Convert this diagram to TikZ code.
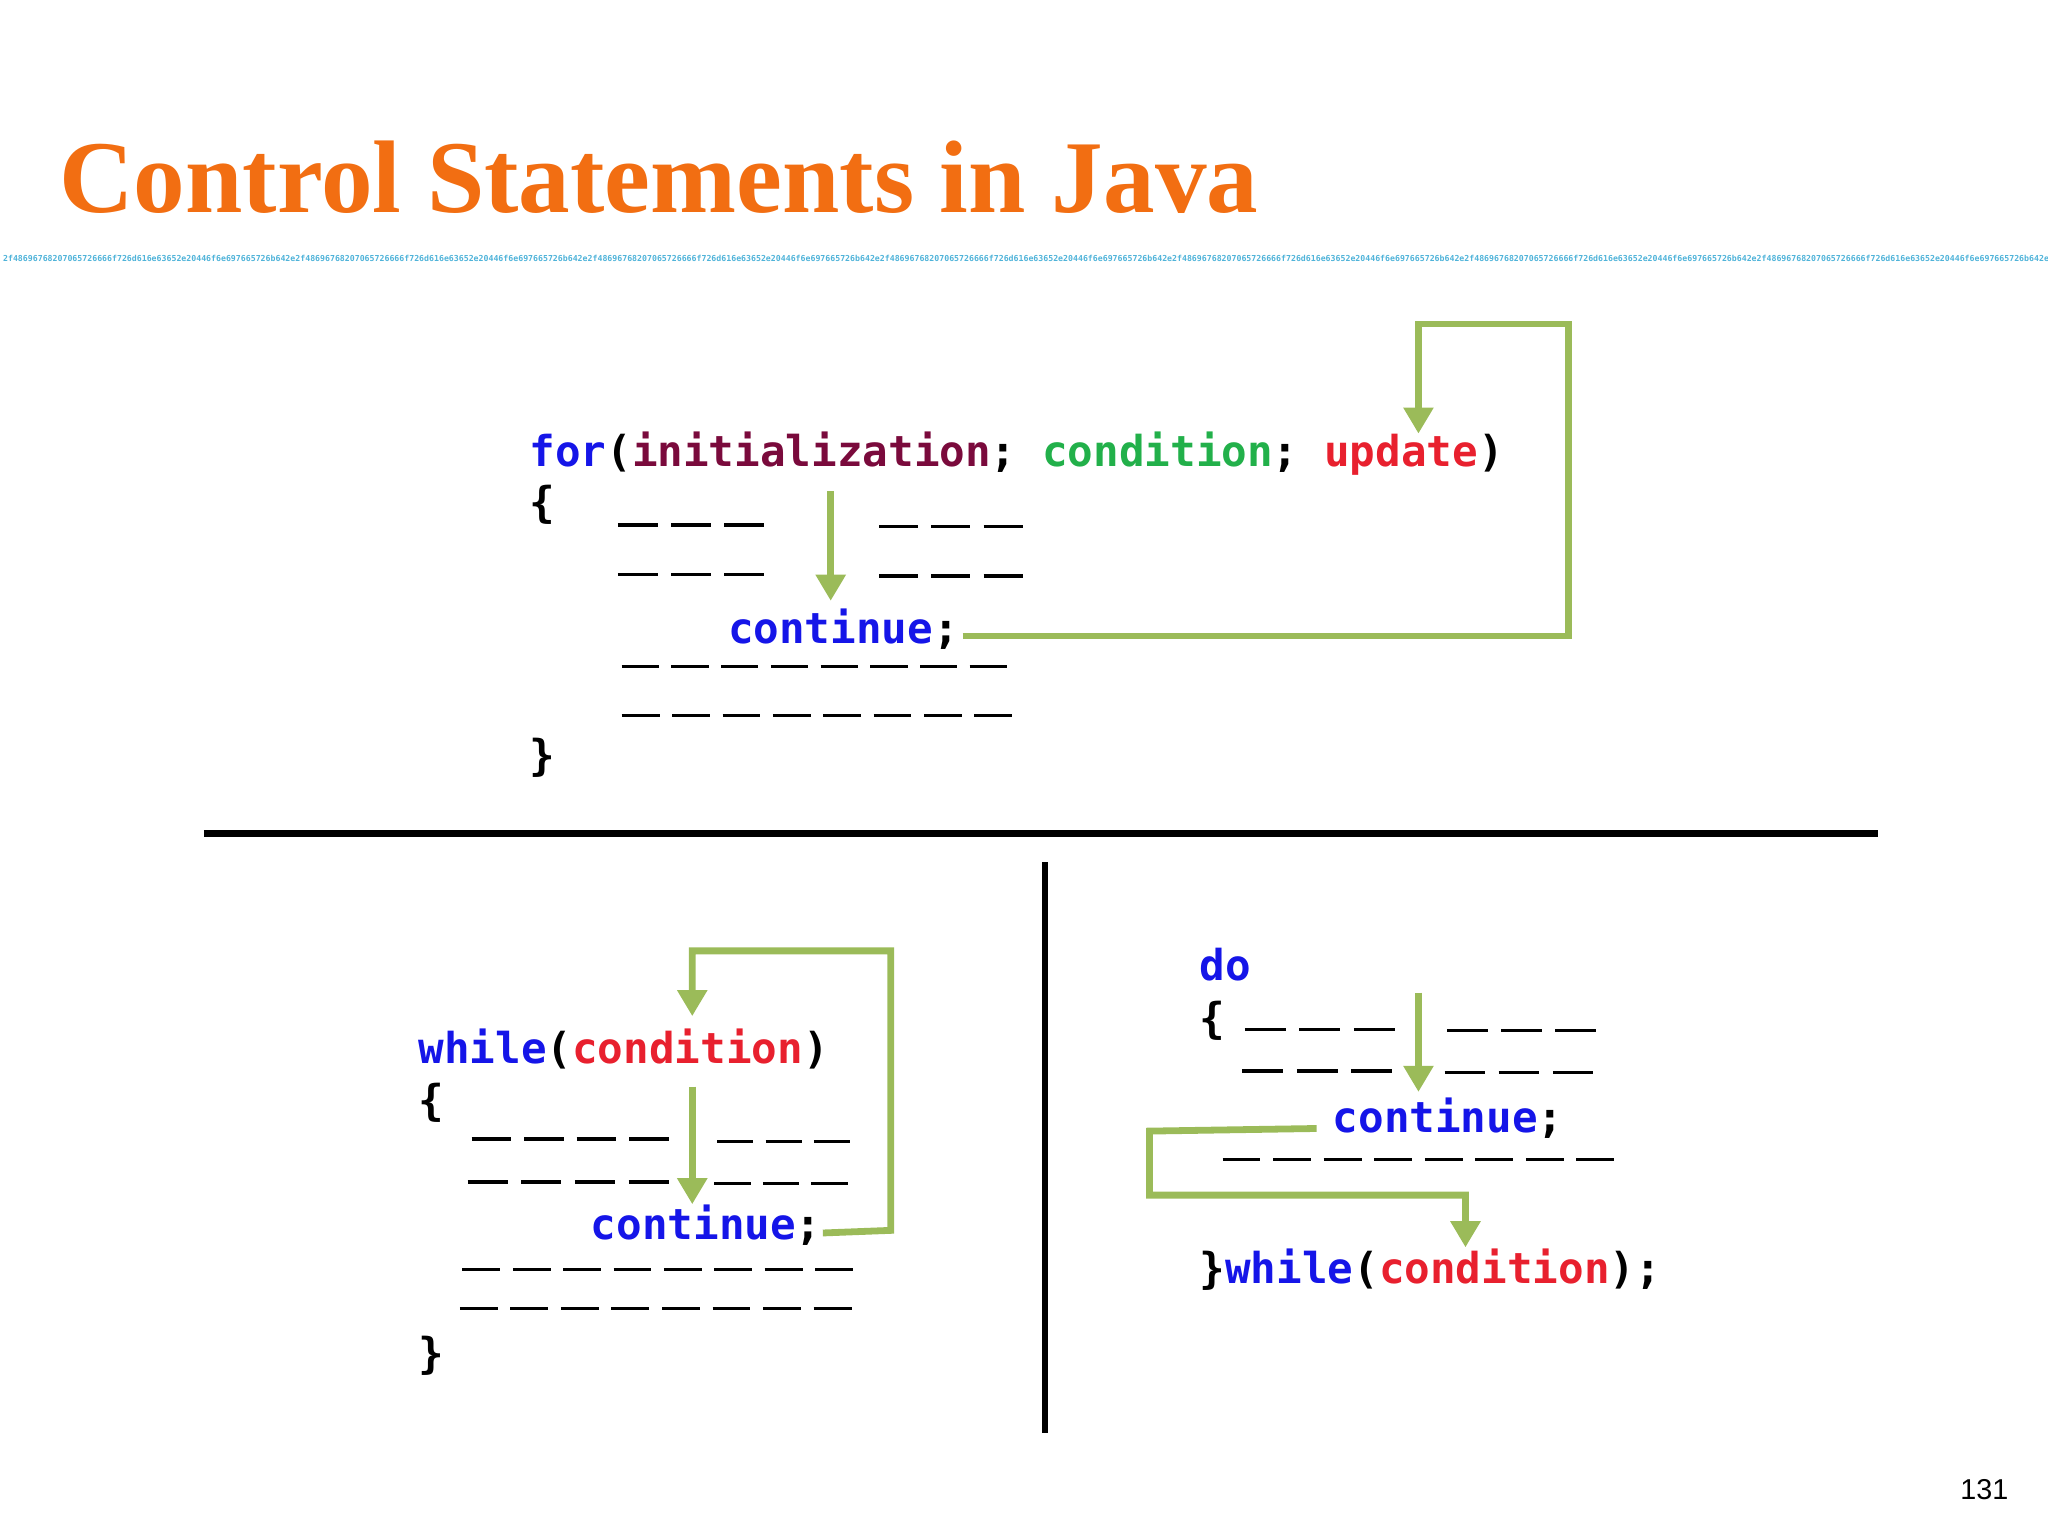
\documentclass[tikz,border=0pt]{standalone}
\usepackage{fontspec}
\setmainfont{Liberation Serif}
\newfontfamily\codefont{DejaVu Sans Mono Bold}
\newfontfamily\numfont{Liberation Sans}
\usetikzlibrary{arrows.meta}
\definecolor{gr}{HTML}{9BBB59}
\definecolor{kw}{HTML}{1515E8}
\definecolor{ini}{HTML}{7A0A3C}
\definecolor{cg}{HTML}{22B04A}
\definecolor{cr}{HTML}{E8202E}
\definecolor{ttl}{HTML}{F26E12}
\definecolor{band}{HTML}{4FB3D9}
\tikzset{
 code/.style={anchor=base west,inner sep=0pt,font=\codefont\fontsize{16.3}{16}\selectfont},
 dl/.style={line width=1.2pt},
 flow/.style={draw=gr,line width=2.6pt,-{Triangle[width=11pt,length=10pt]}},
 sep/.style={line width=2.6pt,black}
}
% dashes: x1, x2, y, n
\newcommand{\dashrow}[4]{%
 \pgfmathsetmacro{\per}{(#2-#1)/(#4-0.25)}%
 \foreach \i in {1,...,#4}{\draw[dl] ({#1+(\i-1)*\per},#3) -- ({#1+(\i-1)*\per+0.75*\per},#3);}}
\def\hexunit{2f48696768207065726666f726d616e63652e20446f6e697665726b642e}
\begin{document}
\begin{tikzpicture}[x=0.5pt,y=-0.5pt]
\useasboundingbox (0,0) rectangle (1568,1176);
\node[anchor=base west,inner sep=0pt,text=ttl,font=\fontsize{39.5}{40}\selectfont\bfseries] (title) at (45,163) {Control Statements in Java};
\node[anchor=west,inner sep=0pt,text=band,font=\codefont\fontsize{3.15}{3.2}\selectfont] (band) at (2,198) {\hexunit\hexunit\hexunit\hexunit\hexunit\hexunit\hexunit};
% separators
\draw[sep] (156,638) -- (1438,638);
\draw[sep] (800,660) -- (800,1097);
% FOR
\node[code] (forl) at (405,357) {\textcolor{kw}{for}(\textcolor{ini}{initialization}; \textcolor{cg}{condition}; \textcolor{cr}{update})};
\node[code] (fob) at (405,396) {\{};
\node[code] (fcont) at (557,493) {\textcolor{kw}{continue};};
\node[code] (fcb) at (405,590) {\}};
\dashrow{473}{585}{402}{3} \dashrow{673}{783}{403}{3}
\dashrow{473}{585}{440}{3} \dashrow{673}{783}{441}{3}
\dashrow{476}{771}{510}{8} \dashrow{476}{775}{548}{8}
\coordinate (fa1) at (636,376); \coordinate (fa2) at (636,460);
\draw[flow] (fa1) -- (fa2);
\coordinate (fs) at (737,487); \coordinate (fe) at (1086,332);
\draw[flow] (fs) -- (1201,487) -- (1201,248) -- (1086,248) -- (fe);
% WHILE
\node[code] (wl) at (320,814) {\textcolor{kw}{while}(\textcolor{cr}{condition})};
\node[code] (wob) at (320,854) {\{};
\node[code] (wcont) at (452,949) {\textcolor{kw}{continue};};
\node[code] (wcb) at (320,1048) {\}};
\dashrow{361}{512}{872}{4} \dashrow{549}{651}{874}{3}
\dashrow{358}{512}{905}{4} \dashrow{547}{649}{906}{3}
\dashrow{354}{653}{972}{8} \dashrow{352}{652}{1002}{8}
\coordinate (wa1) at (530,832); \coordinate (wa2) at (530,922);
\draw[flow] (wa1) -- (wa2);
\coordinate (ws) at (630,944); \coordinate (we) at (530,778);
\draw[flow] (ws) -- (682,942) -- (682,728) -- (530,728) -- (we);
% DO
\node[code] (dl1) at (918,751) {\textcolor{kw}{do}};
\node[code] (dob) at (918,791) {\{};
\node[code] (dcont) at (1020,867) {\textcolor{kw}{continue};};
\node[code] (dwh) at (918,983) {\}\textcolor{kw}{while}(\textcolor{cr}{condition});};
\dashrow{953}{1068}{788}{3} \dashrow{1108}{1222}{789}{3}
\dashrow{951}{1066}{820}{3} \dashrow{1106}{1220}{821}{3}
\dashrow{936}{1236}{888}{8}
\coordinate (da1) at (1086,760); \coordinate (da2) at (1086,836);
\draw[flow] (da1) -- (da2);
\coordinate (ds) at (1008,864); \coordinate (de) at (1122,955);
\draw[flow] (ds) -- (880,866) -- (880,915) -- (1122,915) -- (de);
\node[anchor=base east,inner sep=0pt,font=\numfont\fontsize{11}{11}\selectfont] (pg) at (1538,1148) {131};
\end{tikzpicture}
\end{document}
